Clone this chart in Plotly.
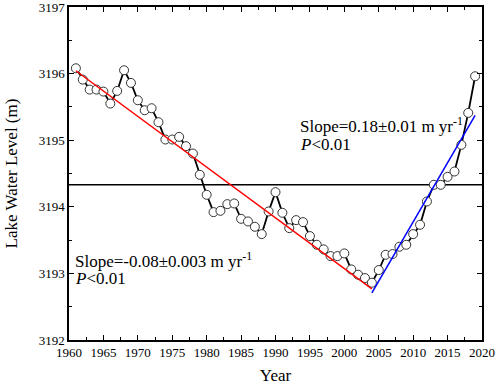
import numpy as np
import plotly.graph_objects as go

years = list(range(1961, 2020))
levels = [3196.08, 3195.91, 3195.76, 3195.76, 3195.73, 3195.55, 3195.74, 3196.05, 3195.86, 3195.60,
          3195.45, 3195.48, 3195.27, 3195.01, 3195.01, 3195.05, 3194.91, 3194.80, 3194.48, 3194.18,
          3193.92, 3193.94, 3194.04, 3194.05, 3193.82, 3193.78, 3193.70, 3193.59, 3193.93, 3194.22,
          3193.91, 3193.68, 3193.80, 3193.77, 3193.56, 3193.43, 3193.36, 3193.26, 3193.26, 3193.30,
          3193.06, 3192.98, 3192.93, 3192.86, 3193.05, 3193.28, 3193.29, 3193.40, 3193.43, 3193.59,
          3193.73, 3194.08, 3194.33, 3194.33, 3194.45, 3194.53, 3194.93, 3195.41, 3195.96]
break_year = 2004
mean_level = 3194.33

yr = np.array(years, dtype=float)
lv = np.array(levels)
m1 = yr <= break_year
m2 = yr >= break_year
p1 = np.polyfit(yr[m1], lv[m1], 1)
p2 = np.polyfit(yr[m2], lv[m2], 1)
x1 = np.array([yr[m1][0], yr[m1][-1]])
x2 = np.array([yr[m2][0], yr[m2][-1]])

font = "Liberation Serif, Times New Roman, serif"
fig = go.Figure()
fig.add_trace(go.Scatter(x=[1960, 2020], y=[mean_level, mean_level], mode="lines",
                         line=dict(color="black", width=1.5), showlegend=False))
fig.add_trace(go.Scatter(x=years, y=levels, mode="lines+markers",
                         line=dict(color="black", width=1.8),
                         marker=dict(symbol="circle", size=9, color="white",
                                     line=dict(color="#333", width=1)),
                         showlegend=False))
fig.add_trace(go.Scatter(x=x1, y=np.polyval(p1, x1), mode="lines",
                         line=dict(color="red", width=1.5), showlegend=False))
fig.add_trace(go.Scatter(x=x2, y=np.polyval(p2, x2), mode="lines",
                         line=dict(color="blue", width=1.5), showlegend=False))

axis_common = dict(showline=True, linecolor="black", linewidth=1.5, mirror="allticks",
                   ticks="inside", ticklen=5, tickwidth=1.2, tickcolor="black",
                   showgrid=False, zeroline=False, automargin=False,
                   ticklabeloverflow="allow",
                   tickfont=dict(family=font, size=13, color="black"))
fig.update_xaxes(range=[1960, 2020], dtick=5, tick0=1960,
                 minor=dict(dtick=2.5, ticks="inside", ticklen=3, tickcolor="black", tickwidth=1),
                 title=dict(text="Year", font=dict(family=font, size=17, color="black"), standoff=10),
                 **axis_common)
fig.update_yaxes(range=[3192, 3197], dtick=1, tick0=3192,
                 minor=dict(dtick=0.5, ticks="inside", ticklen=3, tickcolor="black", tickwidth=1),
                 title=dict(text="Lake Water Level (m)", font=dict(family=font, size=17, color="black"), standoff=17),
                 **axis_common)

fig.add_annotation(x=1993.27, y=3195.23, xref="x", yref="y", xanchor="left", yanchor="middle",
                   text="Slope=0.18±0.01 m yr<sup>-1</sup>", showarrow=False,
                   font=dict(family=font, size=17, color="black"))
fig.add_annotation(x=1993.27, y=3194.93, xref="x", yref="y", xanchor="left", yanchor="middle",
                   text="<i>P</i><0.01", showarrow=False,
                   font=dict(family=font, size=17, color="black"))
fig.add_annotation(x=1960.58, y=3193.20, xref="x", yref="y", xanchor="left", yanchor="middle",
                   text="Slope=-0.08±0.003 m yr<sup>-1</sup>", showarrow=False,
                   font=dict(family=font, size=17, color="black"))
fig.add_annotation(x=1960.58, y=3192.93, xref="x", yref="y", xanchor="left", yanchor="middle",
                   text="<i>P</i><0.01", showarrow=False,
                   font=dict(family=font, size=17, color="black"))

fig.update_layout(width=498, height=387, margin=dict(l=69, r=16, t=7, b=47, autoexpand=False),
                  plot_bgcolor="white", paper_bgcolor="white")
fig.write_html("out.html", config={"displayModeBar": False},
               post_script="document.body.style.margin='0px';document.body.style.overflow='hidden';")
